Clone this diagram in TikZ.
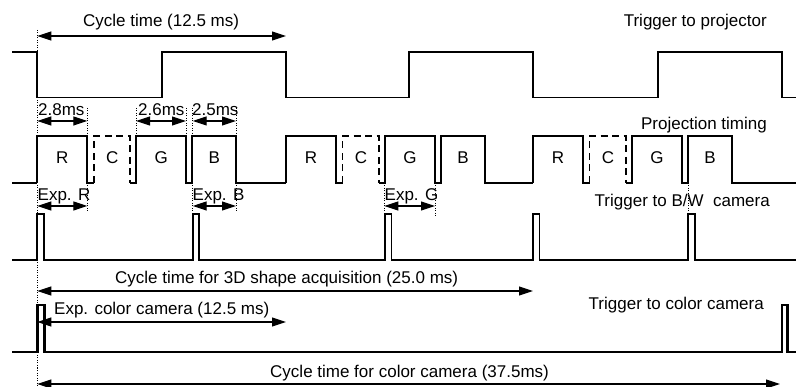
\documentclass[tikz,border=0pt]{standalone}
\usepackage{fontspec}
\setmainfont{Liberation Sans}
\usetikzlibrary{arrows.meta}
\begin{document}
\begin{tikzpicture}[x=1pt,y=-1pt,
  sig/.style={line width=1.8pt,line join=miter},
  csig/.style={line width=2.4pt,line join=miter},
  ghost/.style={line width=1.8pt,dash pattern=on 7pt off 4.5pt},
  guide/.style={line width=0.8pt,dash pattern=on 1pt off 1.5pt},
  dimarrow/.style={line width=1.1pt,{Triangle[length=14pt,width=9pt]}-{Triangle[length=14pt,width=9pt]}},
  lbl/.style={font=\fontsize{17}{20}\selectfont,inner sep=0pt},
]
\useasboundingbox (0,0) rectangle (796,387);

% ---------- guide lines (dotted) ----------
\draw[guide] (37.3,30) -- (37.3,387);
\draw[guide] (87.3,108) -- (87.3,213);
\draw[guide] (136,108) -- (136,136);
\draw[guide] (186,108) -- (186,136);
\draw[guide] (192.7,108) -- (192.7,213);
\draw[guide] (236,108) -- (236,213);
\draw[guide] (384.3,183) -- (384.3,217);
\draw[guide] (435,183) -- (435,217);
\draw[guide] (688,183) -- (688,214);

% ---------- trigger to projector ----------
\draw[sig] (12,52) -- (37.3,52) -- (37.3,97.5) -- (162,97.5) -- (162,52) -- (286,52)
  -- (286,97.5) -- (409,97.5) -- (409,52) -- (533,52) -- (533,97.5) -- (658,97.5)
  -- (658,52) -- (782,52) -- (782,97.5) -- (797,97.5);

% ---------- projection timing ----------
\def\hi{136.3}
\def\lo{182.7}
\draw[sig] (12,\lo) -- (37.3,\lo);
\foreach \t/\n [count=\i] in {37.3/286, 286/533, 533/797} {
  \draw[sig] (\t,\lo) -- (\t,\hi) -- ({\t+50},\hi) -- ({\t+50},\lo) -- ({\t+56.5},\lo);
  \draw[ghost] ({\t+56.5},\lo) -- ({\t+56.5},\hi) -- ({\t+93},\hi) -- ({\t+93},\lo);
  \draw[sig] ({\t+93},\lo) -- ({\t+99},\lo) -- ({\t+99},\hi) -- ({\t+149},\hi) -- ({\t+149},\lo)
    -- ({\t+155},\lo) -- ({\t+155},\hi) -- ({\t+199},\hi) -- ({\t+199},\lo) -- (\n,\lo);
  \node[lbl,anchor=base] (lR\i) at ({\t+25},164) {R};
  \node[lbl,anchor=base] (lC\i) at ({\t+75},164) {C};
  \node[lbl,anchor=base] (lG\i) at ({\t+124},164) {G};
  \node[lbl,anchor=base] (lB\i) at ({\t+177},164) {B};
}

% ---------- trigger to B/W camera ----------
\draw[sig] (12,260) -- (37.3,260) -- (37.3,214) -- (44.3,214) -- (44.3,260)
  -- (192.7,260) -- (192.7,214) -- (199.3,214) -- (199.3,260)
  -- (385,260) -- (385,214) -- (391.5,214) -- (391.5,260)
  -- (533,260) -- (533,214) -- (539.5,214) -- (539.5,260)
  -- (688,260) -- (688,214) -- (695,214) -- (695,260) -- (797,260);

% ---------- trigger to color camera ----------
\draw[csig] (12,352) -- (37.3,352) -- (37.3,305) -- (44.3,305) -- (44.3,352)
  -- (782,352) -- (782,305) -- (787.5,305) -- (787.5,352) -- (797,352);

% ---------- labels ----------
\node[lbl,anchor=base west] (cyc) at (83,26.5) {Cycle time (12.5 ms)};
\node[lbl,anchor=base east] (trigP) at (767,27) {Trigger to projector};
\node[lbl,anchor=base west] (d28) at (38,116) {2.8ms};
\node[lbl,anchor=base west] (d26) at (138,116) {2.6ms};
\node[lbl,anchor=base west] (d25) at (192,116) {2.5ms};
\node[lbl,anchor=base east] (projT) at (767,130) {Projection timing};
\node[lbl,anchor=base west] (expR) at (37.5,201) {Exp. R};
\node[lbl,anchor=base west] (expB) at (192.5,201) {Exp. B};
\node[lbl,anchor=base west] (expG) at (384.5,201) {Exp. G};
\node[lbl,anchor=base east] (trigBW) at (770,207) {Trigger to B/W\ \ camera};
\node[lbl,anchor=base west] (cyc3d) at (115,284) {Cycle time for 3D shape acquisition (25.0 ms)};
\node[lbl,anchor=base west] (expC) at (54,315) {Exp. color camera (12.5 ms)};
\node[lbl,anchor=base east] (trigC) at (764,310) {Trigger to color camera};
\node[lbl,anchor=base west] (cycC) at (270,378) {Cycle time for color camera (37.5ms)};

% ---------- dimension arrows ----------
\coordinate (c0) at (37.3,36);   \coordinate (c1) at (286,36);
\coordinate (p0) at (37.3,121);  \coordinate (p1) at (87.3,121);
\coordinate (g0) at (136,121);   \coordinate (g1) at (186,121);
\coordinate (b0) at (192.7,121); \coordinate (b1) at (236,121);
\coordinate (er0) at (37.3,206); \coordinate (er1) at (87.3,206);
\coordinate (eb0) at (192.7,206);\coordinate (eb1) at (236,206);
\coordinate (eg0) at (384.3,206);\coordinate (eg1) at (435,206);
\coordinate (s0) at (37.3,291);  \coordinate (s1) at (533,291);
\coordinate (ec0) at (37.3,322); \coordinate (ec1) at (286,322);
\coordinate (cc0) at (37.3,384); \coordinate (cc1) at (780,384);
\draw[dimarrow] (c0) -- (c1);
\draw[dimarrow] (p0) -- (p1);
\draw[dimarrow] (g0) -- (g1);
\draw[dimarrow] (b0) -- (b1);
\draw[dimarrow] (er0) -- (er1);
\draw[dimarrow] (eb0) -- (eb1);
\draw[dimarrow] (eg0) -- (eg1);
\draw[dimarrow] (s0) -- (s1);
\draw[dimarrow] (ec0) -- (ec1);
\draw[dimarrow] (cc0) -- (cc1);
\end{tikzpicture}
\end{document}
